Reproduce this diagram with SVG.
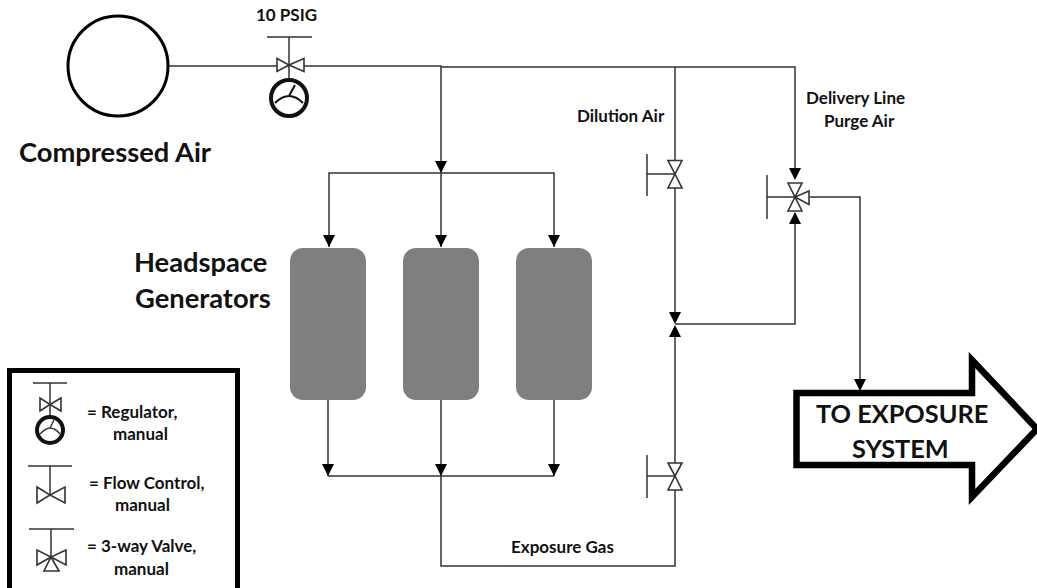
<svg xmlns="http://www.w3.org/2000/svg" width="1037" height="588" viewBox="0 0 1037 588">
<style>
text{font-family:"Lato","Liberation Sans",sans-serif;font-weight:700;fill:#111}
.s{font-size:17px}.m{font-size:27.300px}.e{font-size:25.300px}
.l{fill:none;stroke:#333;stroke-width:1.5}
.v{fill:#fff;stroke:#333;stroke-width:1.6}
.g{fill:#fff;stroke:#111;stroke-width:4}
.n{fill:none;stroke:#333;stroke-width:1.5}
.t{fill:#7f7f7f}
.h{fill:#000}
</style>
<defs>
<path id="dn" class="h" d="M-6,-12H6L0,0Z"/>
<path id="up" class="h" d="M-6,12H6L0,0Z"/>
</defs>
<rect width="1037" height="588" fill="#fff"/>
<g id="connectors" class="l">
<path d="M169,66H289"/>
<path d="M304,66H441V172"/>
<path d="M441,67H795V169"/>
<path d="M329,247V173H554V247"/>
<path d="M441,173V247"/>
<path d="M328,400V476M441,400V476M554,400V476"/>
<path d="M328,476H554"/>
<path d="M441,476V566H675V336"/>
<path d="M675,67V313"/>
<path d="M675,324H795V213"/>
<path d="M810,197H860V380"/>
<g stroke="none">
<use href="#dn" x="441" y="173"/>
<use href="#dn" x="329" y="247"/>
<use href="#dn" x="441" y="247"/>
<use href="#dn" x="554" y="247"/>
<use href="#dn" x="328" y="476"/>
<use href="#dn" x="441" y="476"/>
<use href="#dn" x="554" y="476"/>
<use href="#dn" x="675" y="324"/>
<use href="#up" x="675" y="325"/>
<use href="#dn" x="795" y="180"/>
<use href="#up" x="795" y="212"/>
<use href="#dn" x="860" y="391"/>
</g>
</g>
<g id="compressed-air">
<circle cx="118" cy="66" r="50" fill="#fff" stroke="#000" stroke-width="3"/>
<text class="m" x="19" y="162">Compressed Air</text>
</g>
<g id="regulator">
<path class="n" d="M267,37H312M289,37V78"/>
<path class="v" d="M277,58.500L289,65L277,71.500ZM304,58.500L289,65L304,71.500Z"/>
<circle class="g" cx="289" cy="98" r="18"/>
<path class="n" d="M275,103Q282,96 289,96Q296,96 303,103M289,96L295,85" style="stroke:#111;stroke-width:2"/>
<text class="s" x="256" y="21">10 PSIG</text>
</g>
<g id="tank-1"><rect class="t" x="290" y="248" width="76" height="152" rx="13"/></g>
<g id="tank-2"><rect class="t" x="403" y="248" width="76" height="152" rx="13"/></g>
<g id="tank-3"><rect class="t" x="516" y="248" width="76" height="152" rx="13"/></g>
<g id="headspace-label">
<text class="m" x="134" y="272">Headspace</text>
<text class="m" x="135" y="308">Generators</text>
</g>
<g id="dilution-valve">
<path class="n" d="M647,154V196M647,174H675"/>
<path class="v" d="M668,160.500H682L675,174ZM668,188H682L675,174Z"/>
<text class="s" x="577" y="122">Dilution Air</text>
</g>
<g id="gas-valve">
<path class="n" d="M647,455V498M647,476H675"/>
<path class="v" d="M668,463H682L675,476ZM668,490H682L675,476Z"/>
</g>
<g id="purge-valve">
<path class="n" d="M767,175V219M767,197H795"/>
<path class="v" d="M788,183H802L795,197ZM788,211H802L795,197ZM809,191V204.500L795,197Z"/>
<text class="s" x="806" y="104">Delivery Line</text>
<text class="s" x="824" y="127">Purge Air</text>
</g>
<g id="exposure-gas"><text class="s" x="511" y="553">Exposure Gas</text></g>
<g id="exposure-arrow">
<path d="M796.500,393H972V360L1037,429L972,497V465H796.500Z" fill="#fff" stroke="#000" stroke-width="6.500"/>
<text class="e" x="816" y="423">TO EXPOSURE</text>
<text class="e" x="852" y="458">SYSTEM</text>
</g>
<g id="legend">
<path d="M9.500,600V370.500H237.500V600" fill="#fff" stroke="#000" stroke-width="5"/>
<path class="n" d="M33,383H67M50,383V418"/>
<path class="v" d="M40,398V411L50,404.500ZM61,398V411L50,404.500Z"/>
<circle class="g" cx="50" cy="430" r="13"/>
<path class="n" d="M40,434Q46,428 50,428Q55,428 60,434M50,428L54,420"/>
<text class="s" x="87" y="418">= Regulator,</text>
<text class="s" x="113" y="440">manual</text>
<path class="n" d="M28,466H72M50,466V495"/>
<path class="v" d="M37,487V503L50,495ZM65,487V503L50,495Z"/>
<text class="s" x="89" y="489">= Flow Control,</text>
<text class="s" x="115" y="511">manual</text>
<path class="n" d="M29,529H74M51,529V557"/>
<path class="v" d="M37,550V565L51,557ZM66,550V565L51,557ZM44,571H59L51,557Z"/>
<text class="s" x="87" y="552">= 3-way Valve,</text>
<text class="s" x="114" y="575">manual</text>
</g>
</svg>
